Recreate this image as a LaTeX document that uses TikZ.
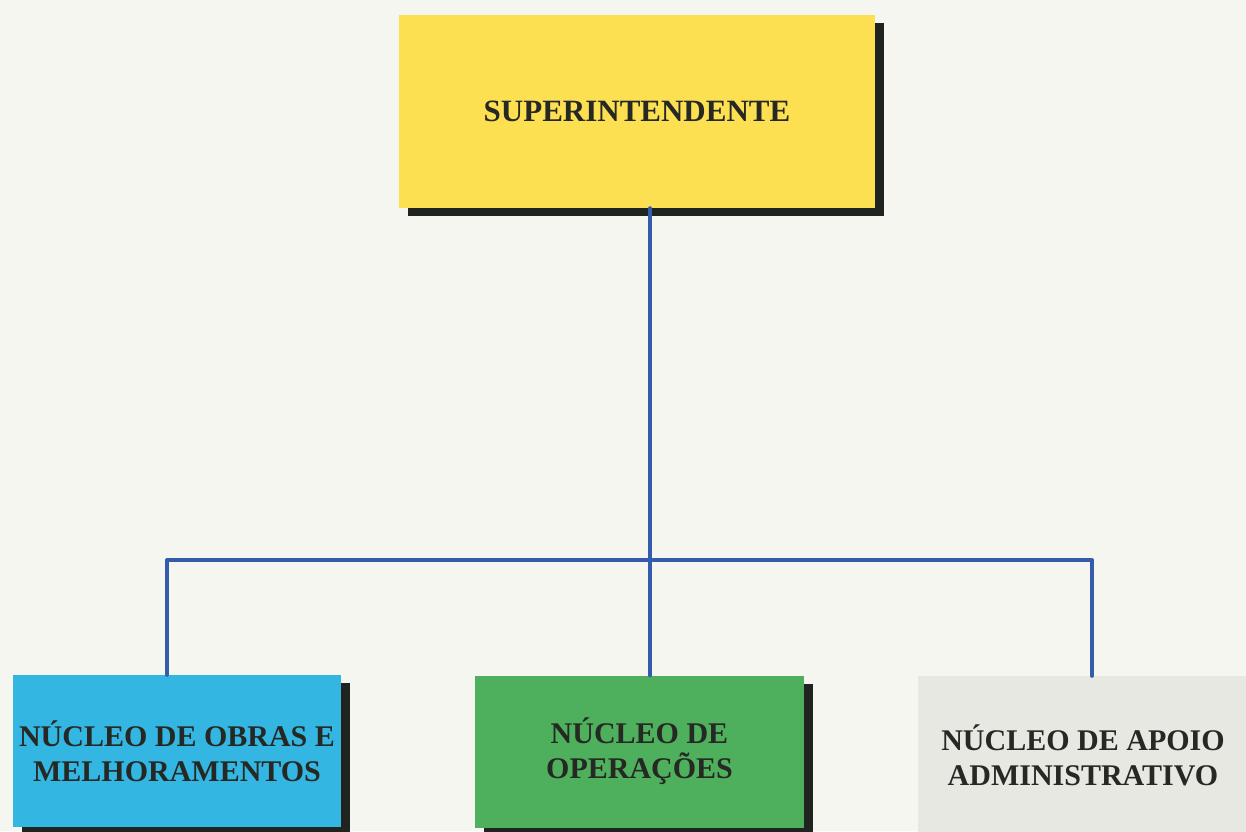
\documentclass[tikz,border=0pt]{standalone}
\usepackage{fontspec}
\setmainfont{Liberation Serif}
\usetikzlibrary{shadows}
\definecolor{bgc}{RGB}{246,246,241}
\definecolor{yelc}{RGB}{252,224,82}
\definecolor{cyac}{RGB}{52,182,226}
\definecolor{grnc}{RGB}{78,176,92}
\definecolor{gryc}{RGB}{232,232,226}
\definecolor{shdc}{RGB}{32,36,32}
\definecolor{linc}{RGB}{52,92,172}
\definecolor{txtc}{RGB}{38,40,36}
\tikzset{
  orgbox/.style={rectangle, inner sep=0pt, text=txtc, align=center,
    font=\bfseries\fontsize{30}{35}\selectfont,
    drop shadow={shadow xshift=9pt, shadow yshift=-8pt, opacity=1, fill=shdc}},
  link/.style={draw=linc, line width=4pt, line join=round, line cap=round}
}
\begin{document}
\begin{tikzpicture}[x=1pt,y=-1pt]
\clip (0,0) rectangle (1246,831);
\fill[bgc] (0,0) rectangle (1246,831);
\node[orgbox, fill=yelc, minimum width=476pt, minimum height=193pt,
  font=\bfseries\fontsize{31}{36}\selectfont] (sup) at (637,111.5) {SUPERINTENDENTE};
\node[orgbox, fill=cyac, minimum width=328pt, minimum height=152pt] (obras) at (177,751) {NÚCLEO DE OBRAS E\\MELHORAMENTOS};
\node[orgbox, fill=grnc, minimum width=329pt, minimum height=152pt] (ops) at (639.5,751.5) {NÚCLEO DE\\OPERAÇÕES};
\node[orgbox, fill=gryc, minimum width=330pt, minimum height=158pt] (apoio) at (1083,755) {NÚCLEO DE APOIO\\ADMINISTRATIVO};
\coordinate (bus) at (650,560);
\coordinate (busL) at (167,560);
\coordinate (busR) at (1092,560);
\draw[link] (sup.south -| bus) -- (ops.north -| bus);
\draw[link] (obras.north -| busL) -- (busL) -- (busR) -- (apoio.north -| busR);
\end{tikzpicture}
\end{document}
